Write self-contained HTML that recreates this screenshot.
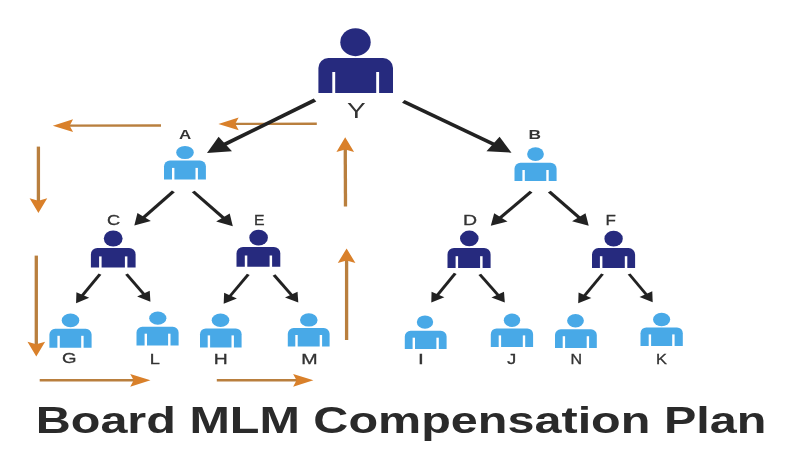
<!DOCTYPE html>
<html><head><meta charset="utf-8"><style>
html,body{margin:0;padding:0;background:#fff;}
svg{display:block;will-change:transform;}
text{font-family:"Liberation Sans",sans-serif;fill:#333333;}
.title{font-weight:bold;fill:#2a2a2a;}
</style></head><body>
<svg width="790" height="460" viewBox="0 0 790 460">
<rect width="790" height="460" fill="#fff"/>
<g transform="scale(1.38 1)">
<line x1="116.67" y1="125.50" x2="49.66" y2="125.67" stroke="#b97f3e" stroke-width="2.4"/><path d="M38.26 125.70L52.94 119.26L50.46 125.67L52.98 132.06Z" fill="#d9802a"/>
<line x1="229.57" y1="123.70" x2="169.66" y2="123.87" stroke="#b97f3e" stroke-width="2.4"/><path d="M158.26 123.90L172.94 117.46L170.46 123.87L172.98 130.26Z" fill="#d9802a"/>
<line x1="27.83" y1="146.60" x2="27.83" y2="201.60" stroke="#b97f3e" stroke-width="2.4"/><path d="M27.83 213.00L21.43 198.30L27.83 200.80L34.23 198.30Z" fill="#d9802a"/>
<line x1="26.30" y1="255.60" x2="26.30" y2="345.10" stroke="#b97f3e" stroke-width="2.4"/><path d="M26.30 356.50L19.90 341.80L26.30 344.30L32.70 341.80Z" fill="#d9802a"/>
<line x1="28.77" y1="380.30" x2="97.66" y2="380.30" stroke="#b97f3e" stroke-width="2.4"/><path d="M109.06 380.30L94.36 386.70L96.86 380.30L94.36 373.90Z" fill="#d9802a"/>
<line x1="157.10" y1="380.30" x2="215.70" y2="380.30" stroke="#b97f3e" stroke-width="2.4"/><path d="M227.10 380.30L212.40 386.70L214.90 380.30L212.40 373.90Z" fill="#d9802a"/>
<line x1="250.36" y1="206.50" x2="250.18" y2="148.70" stroke="#b97f3e" stroke-width="2.4"/><path d="M250.14 137.30L256.59 151.98L250.18 149.50L243.79 152.02Z" fill="#d9802a"/>
<line x1="251.16" y1="340.00" x2="251.16" y2="259.80" stroke="#b97f3e" stroke-width="2.4"/><path d="M251.16 248.40L257.56 263.10L251.16 260.60L244.76 263.10Z" fill="#d9802a"/>
<line x1="228.26" y1="100.00" x2="162.59" y2="144.48" stroke="#222222" stroke-width="3.4"/><path d="M150.00 153.00L158.40 136.87L168.10 151.19Z" fill="#222222"/>
<line x1="292.25" y1="101.40" x2="357.93" y2="144.38" stroke="#222222" stroke-width="3.4"/><path d="M370.65 152.70L352.53 151.18L362.00 136.70Z" fill="#222222"/>
<line x1="125.65" y1="191.40" x2="103.95" y2="217.59" stroke="#222222" stroke-width="2.7"/><path d="M97.32 225.60L99.57 212.92L109.35 221.03Z" fill="#222222"/>
<line x1="140.00" y1="191.50" x2="162.07" y2="218.19" stroke="#222222" stroke-width="2.7"/><path d="M168.70 226.20L156.66 221.62L166.45 213.52Z" fill="#222222"/>
<line x1="384.86" y1="191.60" x2="362.41" y2="217.89" stroke="#222222" stroke-width="2.7"/><path d="M355.65 225.80L358.10 213.16L367.75 221.41Z" fill="#222222"/>
<line x1="398.04" y1="191.60" x2="419.93" y2="217.82" stroke="#222222" stroke-width="2.7"/><path d="M426.59 225.80L414.54 221.27L424.29 213.13Z" fill="#222222"/>
<line x1="72.46" y1="274.10" x2="59.59" y2="295.72" stroke="#222222" stroke-width="2.35"/><path d="M55.14 303.20L55.36 292.27L64.64 297.80Z" fill="#222222"/>
<line x1="91.67" y1="274.10" x2="104.36" y2="294.33" stroke="#222222" stroke-width="2.35"/><path d="M108.99 301.70L99.36 296.52L108.51 290.78Z" fill="#222222"/>
<line x1="179.93" y1="274.30" x2="166.61" y2="296.26" stroke="#222222" stroke-width="2.35"/><path d="M162.10 303.70L162.41 292.78L171.64 298.38Z" fill="#222222"/>
<line x1="198.55" y1="275.00" x2="211.48" y2="295.27" stroke="#222222" stroke-width="2.35"/><path d="M216.16 302.60L206.50 297.50L215.60 291.69Z" fill="#222222"/>
<line x1="329.86" y1="273.30" x2="316.96" y2="295.11" stroke="#222222" stroke-width="2.35"/><path d="M312.54 302.60L312.72 291.67L322.02 297.17Z" fill="#222222"/>
<line x1="347.68" y1="274.30" x2="361.11" y2="295.27" stroke="#222222" stroke-width="2.35"/><path d="M365.80 302.60L356.13 297.51L365.22 291.69Z" fill="#222222"/>
<line x1="436.59" y1="274.00" x2="423.47" y2="295.84" stroke="#222222" stroke-width="2.35"/><path d="M418.99 303.30L419.25 292.38L428.51 297.94Z" fill="#222222"/>
<line x1="455.87" y1="274.00" x2="468.46" y2="294.76" stroke="#222222" stroke-width="2.35"/><path d="M472.97 302.20L463.43 296.88L472.66 291.28Z" fill="#222222"/>
</g>
<ellipse cx="355.5" cy="42.2" rx="15.2" ry="14" fill="#262a7e"/><path d="M318.4 93L318.4 68A10 10 0 0 1 328.4 58L383 58A10 10 0 0 1 393 68L393 93Z" fill="#262a7e"/><rect x="332.3" y="72" width="2.9" height="21.5" fill="#fff"/><rect x="376.2" y="72" width="2.9" height="21.5" fill="#fff"/>
<ellipse cx="185" cy="152.5" rx="8.8" ry="6.6" fill="#48a9e7"/><path d="M164 179.5L164 166.6A6 6 0 0 1 170 160.6L199.9 160.6A6 6 0 0 1 205.9 166.6L205.9 179.5Z" fill="#48a9e7"/><rect x="172" y="167.9" width="2.4" height="12.1" fill="#fff"/><rect x="195.5" y="167.9" width="2.4" height="12.1" fill="#fff"/>
<ellipse cx="535.5" cy="154.1" rx="8.4" ry="6.8" fill="#48a9e7"/><path d="M514.5 181.1L514.5 168.7A6 6 0 0 1 520.5 162.7L550.6 162.7A6 6 0 0 1 556.6 168.7L556.6 181.1Z" fill="#48a9e7"/><rect x="522.4" y="170" width="2.4" height="11.6" fill="#fff"/><rect x="546.3" y="170" width="2.4" height="11.6" fill="#fff"/>
<ellipse cx="113.2" cy="238.5" rx="9.4" ry="8.1" fill="#262a7e"/><path d="M90.9 267.6L90.9 254.4A6.5 6.5 0 0 1 97.4 247.9L129.1 247.9A6.5 6.5 0 0 1 135.6 254.4L135.6 267.6Z" fill="#262a7e"/><rect x="99.1" y="256.4" width="2.5" height="11.7" fill="#fff"/><rect x="124.9" y="256.4" width="2.5" height="11.7" fill="#fff"/>
<ellipse cx="258.6" cy="237.7" rx="9.3" ry="7.9" fill="#262a7e"/><path d="M236.5 266.7L236.5 253.4A6.5 6.5 0 0 1 243 246.9L273.8 246.9A6.5 6.5 0 0 1 280.3 253.4L280.3 266.7Z" fill="#262a7e"/><rect x="244.8" y="255.5" width="2.5" height="11.7" fill="#fff"/><rect x="269.6" y="255.5" width="2.5" height="11.7" fill="#fff"/>
<ellipse cx="469.3" cy="238.4" rx="9.3" ry="7.8" fill="#262a7e"/><path d="M447.5 268L447.5 254.4A6.5 6.5 0 0 1 454 247.9L484.1 247.9A6.5 6.5 0 0 1 490.6 254.4L490.6 268Z" fill="#262a7e"/><rect x="455.6" y="256.2" width="2.5" height="12.3" fill="#fff"/><rect x="480.1" y="256.2" width="2.5" height="12.3" fill="#fff"/>
<ellipse cx="613.6" cy="238.7" rx="9.2" ry="7.9" fill="#262a7e"/><path d="M592 268L592 254.5A6.5 6.5 0 0 1 598.5 248L628.6 248A6.5 6.5 0 0 1 635.1 254.5L635.1 268Z" fill="#262a7e"/><rect x="599.9" y="256.2" width="2.5" height="12.3" fill="#fff"/><rect x="624.8" y="256.2" width="2.5" height="12.3" fill="#fff"/>
<ellipse cx="70.5" cy="320.4" rx="8.8" ry="6.8" fill="#48a9e7"/><path d="M49.4 347.8L49.4 334.6A5.8 5.8 0 0 1 55.2 328.8L85.8 328.8A5.8 5.8 0 0 1 91.6 334.6L91.6 347.8Z" fill="#48a9e7"/><rect x="57.4" y="335.8" width="2.4" height="12.5" fill="#fff"/><rect x="81.2" y="335.8" width="2.4" height="12.5" fill="#fff"/>
<ellipse cx="157.8" cy="318.2" rx="8.6" ry="6.6" fill="#48a9e7"/><path d="M136.5 345.6L136.5 332.5A5.8 5.8 0 0 1 142.3 326.7L172.8 326.7A5.8 5.8 0 0 1 178.6 332.5L178.6 345.6Z" fill="#48a9e7"/><rect x="144.6" y="333.7" width="2.4" height="12.4" fill="#fff"/><rect x="168.1" y="333.7" width="2.4" height="12.4" fill="#fff"/>
<ellipse cx="220.5" cy="320.3" rx="8.8" ry="6.7" fill="#48a9e7"/><path d="M200 347.5L200 334.2A5.8 5.8 0 0 1 205.8 328.4L235.8 328.4A5.8 5.8 0 0 1 241.6 334.2L241.6 347.5Z" fill="#48a9e7"/><rect x="207.7" y="335.4" width="2.4" height="12.6" fill="#fff"/><rect x="231.5" y="335.4" width="2.4" height="12.6" fill="#fff"/>
<ellipse cx="308.8" cy="319.9" rx="8.8" ry="6.7" fill="#48a9e7"/><path d="M287.8 346.5L287.8 333.8A5.8 5.8 0 0 1 293.6 328L323.8 328A5.8 5.8 0 0 1 329.6 333.8L329.6 346.5Z" fill="#48a9e7"/><rect x="295.3" y="335" width="2.4" height="12" fill="#fff"/><rect x="319.7" y="335" width="2.4" height="12" fill="#fff"/>
<ellipse cx="425" cy="322.1" rx="8.2" ry="6.7" fill="#48a9e7"/><path d="M404.8 349L404.8 336.5A5.8 5.8 0 0 1 410.6 330.7L440.8 330.7A5.8 5.8 0 0 1 446.6 336.5L446.6 349Z" fill="#48a9e7"/><rect x="412.6" y="337.7" width="2.4" height="11.8" fill="#fff"/><rect x="436.4" y="337.7" width="2.4" height="11.8" fill="#fff"/>
<ellipse cx="512" cy="320.3" rx="8.2" ry="6.7" fill="#48a9e7"/><path d="M490.8 347L490.8 334.2A5.8 5.8 0 0 1 496.6 328.4L527.3 328.4A5.8 5.8 0 0 1 533.1 334.2L533.1 347Z" fill="#48a9e7"/><rect x="498.7" y="335.4" width="2.4" height="12.1" fill="#fff"/><rect x="522.8" y="335.4" width="2.4" height="12.1" fill="#fff"/>
<ellipse cx="575.5" cy="320.8" rx="8.4" ry="6.7" fill="#48a9e7"/><path d="M555 348L555 335A5.8 5.8 0 0 1 560.8 329.2L591 329.2A5.8 5.8 0 0 1 596.8 335L596.8 348Z" fill="#48a9e7"/><rect x="562.7" y="336.2" width="2.4" height="12.3" fill="#fff"/><rect x="586.7" y="336.2" width="2.4" height="12.3" fill="#fff"/>
<ellipse cx="661.6" cy="319.5" rx="8.6" ry="6.8" fill="#48a9e7"/><path d="M640.5 346.1L640.5 333.2A5.8 5.8 0 0 1 646.3 327.4L677 327.4A5.8 5.8 0 0 1 682.8 333.2L682.8 346.1Z" fill="#48a9e7"/><rect x="648.7" y="334.4" width="2.4" height="12.2" fill="#fff"/><rect x="672.2" y="334.4" width="2.4" height="12.2" fill="#fff"/>
<text transform="translate(356.23 117.83) scale(1.263 1)" font-size="22.20" text-anchor="middle">Y</text>
<text transform="translate(185.15 139.15) scale(1.306 1)" font-size="13.00" text-anchor="middle" font-weight="bold">A</text>
<text transform="translate(534.71 139.48) scale(1.293 1)" font-size="13.40" text-anchor="middle" font-weight="bold">B</text>
<text transform="translate(113.67 224.72) scale(1.304 1)" font-size="14.00" text-anchor="middle" stroke="#333333" stroke-width="0.3">C</text>
<text transform="translate(259.30 224.82) scale(1.131 1)" font-size="14.00" text-anchor="middle" stroke="#333333" stroke-width="0.3">E</text>
<text transform="translate(469.98 224.77) scale(1.393 1)" font-size="14.00" text-anchor="middle" stroke="#333333" stroke-width="0.3">D</text>
<text transform="translate(610.60 225.03) scale(1.214 1)" font-size="14.00" text-anchor="middle" stroke="#333333" stroke-width="0.3">F</text>
<text transform="translate(69.34 363.37) scale(1.313 1)" font-size="14.20" text-anchor="middle" stroke="#333333" stroke-width="0.3">G</text>
<text transform="translate(154.77 364.05) scale(1.279 1)" font-size="14.20" text-anchor="middle" stroke="#333333" stroke-width="0.3">L</text>
<text transform="translate(220.65 364.30) scale(1.360 1)" font-size="14.20" text-anchor="middle" stroke="#333333" stroke-width="0.3">H</text>
<text transform="translate(309.40 364.30) scale(1.384 1)" font-size="14.20" text-anchor="middle" stroke="#333333" stroke-width="0.3">M</text>
<text transform="translate(420.88 363.65) scale(1.475 1)" font-size="14.20" text-anchor="middle" stroke="#333333" stroke-width="0.3">I</text>
<text transform="translate(511.78 363.87) scale(1.265 1)" font-size="14.20" text-anchor="middle" stroke="#333333" stroke-width="0.3">J</text>
<text transform="translate(576.15 364.10) scale(1.127 1)" font-size="14.20" text-anchor="middle" stroke="#333333" stroke-width="0.3">N</text>
<text transform="translate(661.52 364.00) scale(1.152 1)" font-size="14.20" text-anchor="middle" stroke="#333333" stroke-width="0.3">K</text>
<text class="title" x="35.7" y="432.8" font-size="36" textLength="730.7" lengthAdjust="spacingAndGlyphs">Board MLM Compensation Plan</text>
</svg>
</body></html>
